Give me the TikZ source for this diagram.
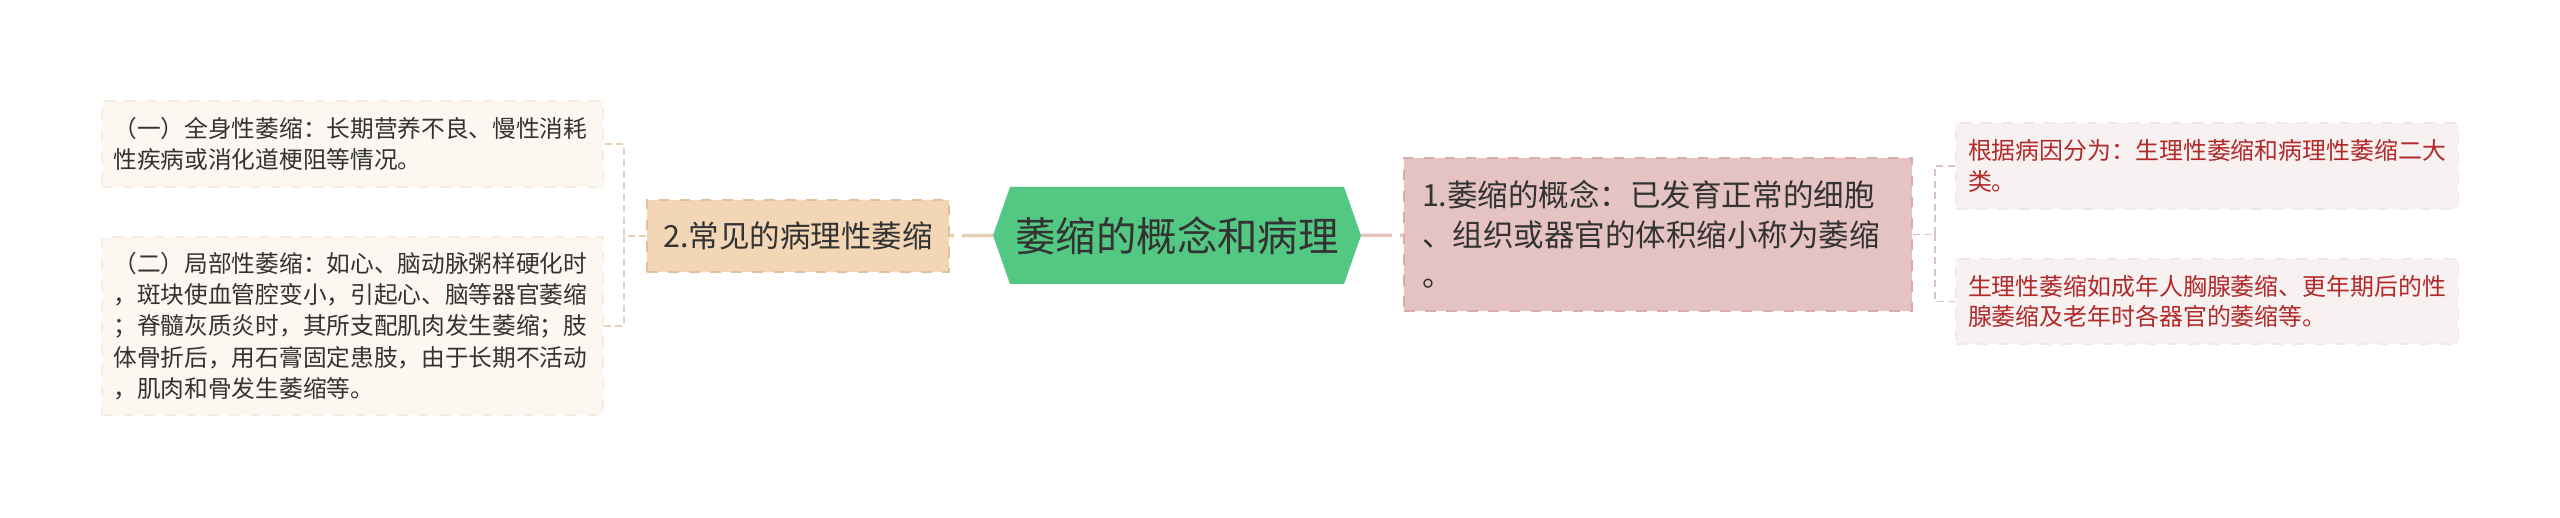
\documentclass[tikz,border=0pt]{standalone}
\usepackage{fontspec}
\setmainfont{Noto Sans CJK SC}
\usepackage{tikz}
\usetikzlibrary{positioning, calc}
\definecolor{beigecito}{RGB}{252,247,241}
\definecolor{beigeborde}{RGB}{246,236,225}
\definecolor{arena}{RGB}{242,214,182}
\definecolor{arenaborde}{RGB}{226,192,158}
\definecolor{arenalinea}{RGB}{232,208,184}
\definecolor{verdecito}{RGB}{82,200,130}
\definecolor{rosita}{RGB}{230,195,195}
\definecolor{rositaborde}{RGB}{216,172,172}
\definecolor{rosaclaro}{RGB}{247,241,241}
\definecolor{rosaborde}{RGB}{241,232,232}
\definecolor{rosalinea}{RGB}{216,196,196}
\definecolor{rojito}{RGB}{178,42,42}
\definecolor{grisito}{RGB}{51,51,51}
\tikzset{
  hojaizq/.style={rectangle, fill=beigecito, draw=beigeborde, dashed, line width=0.3pt, text=grisito, font=\fontsize{6.74pt}{8.93pt}\selectfont, text width=4.78cm, align=left, inner xsep=0.115cm, inner ysep=0pt},
  hojader/.style={rectangle, fill=rosaclaro, draw=rosaborde, dashed, line width=0.3pt, text=rojito, font=\fontsize{6.8pt}{8.6pt}\selectfont, text width=4.78cm, align=left, inner xsep=0.12cm, inner ysep=0pt},
  rama/.style={rectangle, dashed, line width=0.4pt, text=grisito, font=\fontsize{8.68pt}{11.4pt}\selectfont, inner ysep=0pt},
  enlace/.style={dashed, line width=0.43pt, dash pattern=on 0.07cm off 0.045cm},
  grueso/.style={line width=1pt, dash pattern=on 0.31cm off 0.08cm}
}

\begin{document}
\begin{tikzpicture}

  \fill[white] (0,0) rectangle (25.6,-5.18);
  \useasboundingbox (0,0) rectangle (25.6,-5.18);

  % centro
  \fill[verdecito] (9.93,-2.355) -- (10.10,-1.87) -- (13.44,-1.87) -- (13.61,-2.355) -- (13.44,-2.84) -- (10.10,-2.84) -- cycle;
  \coordinate (raizizq) at (9.93,-2.355);
  \coordinate (raizder) at (13.61,-2.355);
  \node [text=grisito, font=\fontsize{11.5pt}{13pt}\selectfont, minimum width=3.34cm, minimum height=0.97cm, inner sep=0pt] (raiz) at (11.77,-2.355) {萎缩的概念和病理};

  % izquierda
  \node [rama, fill=arena, draw=arenaborde, minimum width=3.02cm, minimum height=0.72cm] (patol) at (7.98,-2.36) {2.常见的病理性萎缩};
  \node [hojaizq, minimum height=0.86cm] (general) at (3.525,-1.44) {（一）全身性萎缩：长期营养不良、慢性消耗\\性疾病或消化道梗阻等情况。};
  \node [hojaizq, minimum height=1.78cm] (local) at (3.525,-3.26) {（二）局部性萎缩：如心、脑动脉粥样硬化时\\，斑块使血管腔变小，引起心、脑等器官萎缩\\；脊髓灰质炎时，其所支配肌肉发生萎缩；肢\\体骨折后，用石膏固定患肢，由于长期不活动\\，肌肉和骨发生萎缩等。};

  % derecha
  \node [rama, fill=rosita, draw=rositaborde, text width=4.72cm, align=left, inner xsep=0.18cm, minimum height=1.53cm] (concepto) at (16.58,-2.345) {1.萎缩的概念：已发育正常的细胞\\、组织或器官的体积缩小称为萎缩\\。};
  \node [hojader, minimum height=0.86cm] (clases) at (22.07,-1.66) {根据病因分为：生理性萎缩和病理性萎缩二大\\类。};
  \node [hojader, minimum height=0.85cm] (fisiol) at (22.07,-3.015) {生理性萎缩如成年人胸腺萎缩、更年期后的性\\腺萎缩及老年时各器官的萎缩等。};

  % enlaces
  \draw [grueso, arenalinea] (raizizq) -- (patol);
  \draw [grueso, rosita] (raizder) -- (concepto);

  \coordinate (horqizq) at (6.24,-2.36);
  \draw [enlace, arenalinea] (patol) -- (horqizq) |- (general);
  \draw [enlace, arenalinea] (horqizq) |- (local);

  \coordinate (horqder) at (19.35,-2.345);
  \draw [enlace, rosalinea] (concepto) -- (horqder) |- (clases);
  \draw [enlace, rosalinea] (horqder) |- (fisiol);

\end{tikzpicture}
\end{document}
